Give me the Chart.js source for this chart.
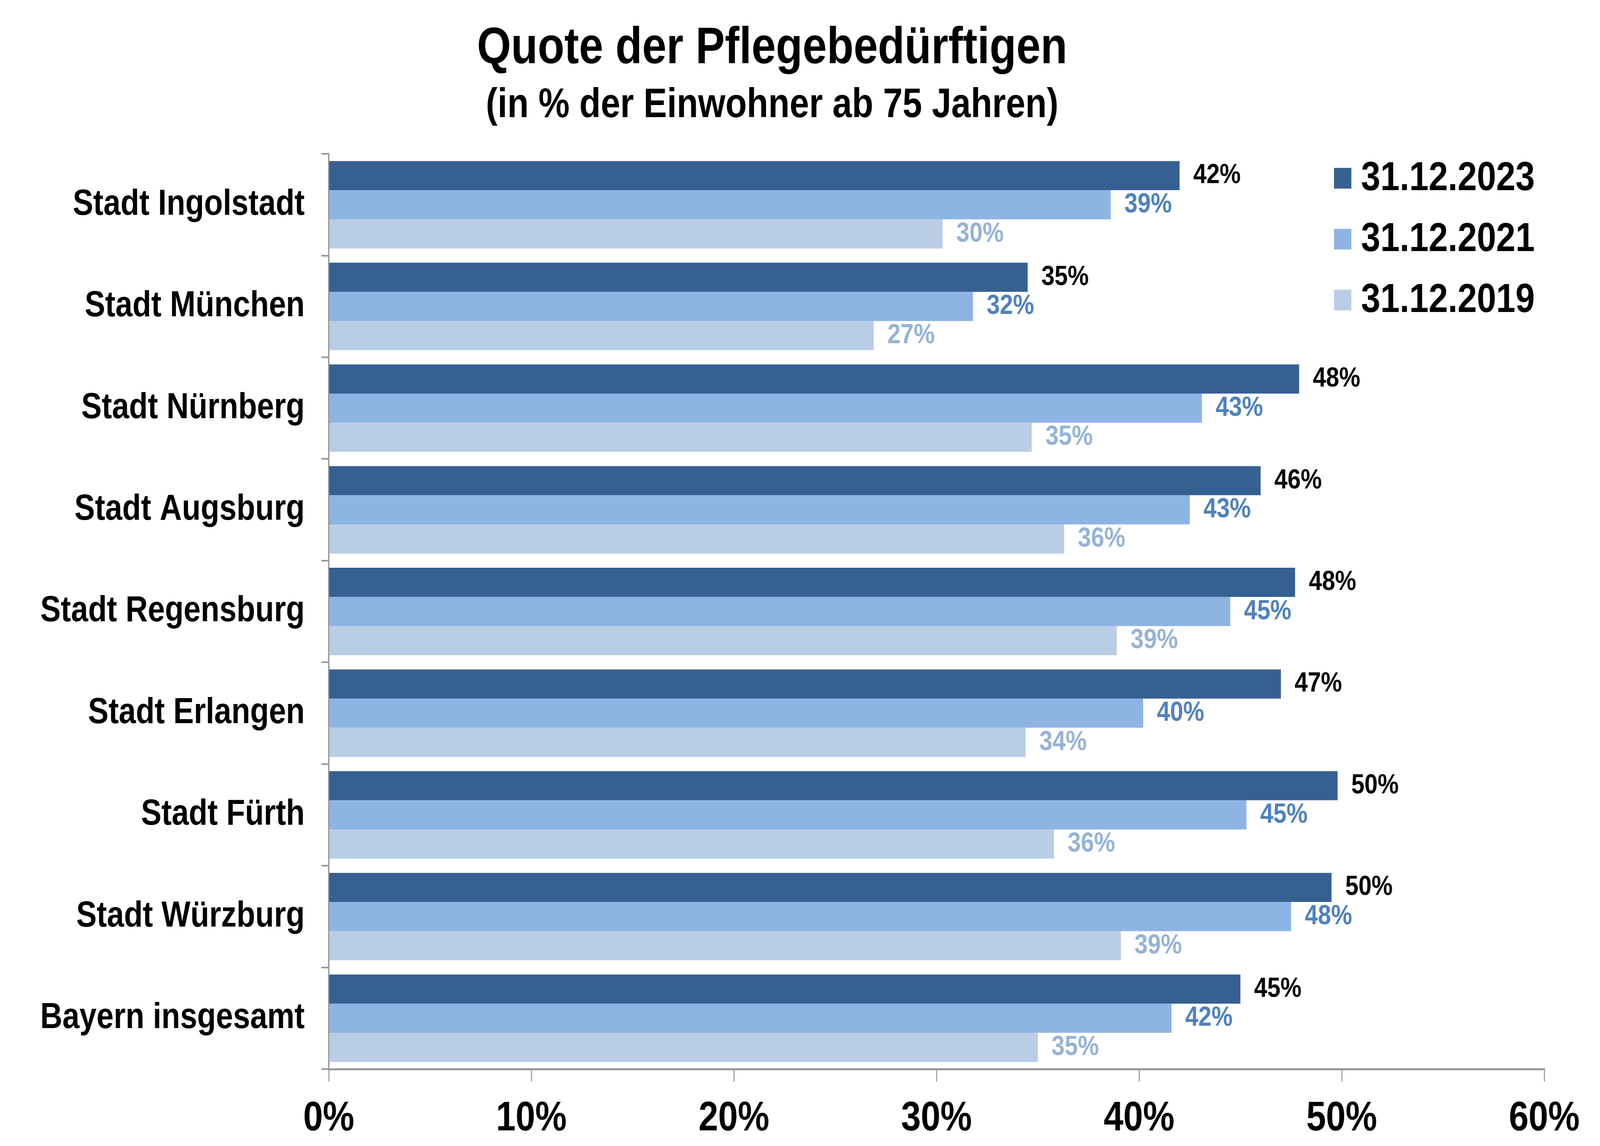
<!DOCTYPE html>
<html lang="de">
<head>
<meta charset="utf-8">
<title>Quote der Pflegebedürftigen</title>
<script src="https://cdn.jsdelivr.net/npm/chart.js@4/dist/chart.umd.min.js"></script>
<style>
  html, body { margin: 0; padding: 0; background: #fff; overflow: hidden; }
  /* chart is laid out on a 4794x2935 canvas and stretched to the window */
  canvas { display: block; width: 100vw; height: 100vh; }
</style>
</head>
<body>
<canvas id="pflegeChart" width="4794" height="2935" style="width:100vw;height:100vh"></canvas>
<script>
// Data (in % der Einwohner ab 75 Jahren)
const categories = [
  "Stadt Ingolstadt",
  "Stadt München",
  "Stadt Nürnberg",
  "Stadt Augsburg",
  "Stadt Regensburg",
  "Stadt Erlangen",
  "Stadt Fürth",
  "Stadt Würzburg",
  "Bayern insgesamt",
];
const seriesLabels = ["31.12.2023", "31.12.2021", "31.12.2019"];
const quote2023 = [42.0, 34.5, 47.9, 46.0, 47.7, 47.0, 49.8, 49.5, 45.0];
const quote2021 = [38.6, 31.8, 43.1, 42.5, 44.5, 40.2, 45.3, 47.5, 41.6];
const quote2019 = [30.3, 26.9, 34.7, 36.3, 38.9, 34.4, 35.8, 39.1, 35.0];
const xTicks = [0, 10, 20, 30, 40, 50, 60];

const barColors = ["#376092", "#8eb4e3", "#b9cde5"];
const labelColors = ["#000000", "#4f81bd", "#95b3d7"];
const axisColor = "#959595";
const fontFamily = "'Liberation Sans', Arial, sans-serif";

/**
 * Value labels at the end of each bar
 */
const valueLabels = {
  id: "valueLabels",
  afterDatasetsDraw(chart) {
    const ctx = chart.ctx;
    ctx.save();
    ctx.font = "bold 71px " + fontFamily;
    ctx.textAlign = "left";
    ctx.textBaseline = "middle";
    chart.data.datasets.forEach((ds, i) => {
      const meta = chart.getDatasetMeta(i);
      ctx.fillStyle = labelColors[i];
      meta.data.forEach((bar, j) => {
        ctx.fillText(Math.round(ds.data[j]) + "%", bar.x + 41, bar.y);
      });
    });
    ctx.restore();
  },
};

/**
 * Legend drawn inside the plot area, top right
 */
const floatingLegend = {
  id: "floatingLegend",
  afterDraw(chart) {
    const ctx = chart.ctx;
    const x = 3997;
    const rowY = [456, 612, 768];
    ctx.save();
    ctx.font = "bold 104px " + fontFamily;
    ctx.textAlign = "left";
    ctx.textBaseline = "middle";
    chart.data.datasets.forEach((ds, i) => {
      ctx.fillStyle = ds.backgroundColor;
      ctx.fillRect(x, rowY[i] - 26, 52, 53);
      ctx.fillStyle = "#000";
      ctx.fillText(ds.label, x + 81, rowY[i] + 2);
    });
    ctx.restore();
  },
};

const seriesData = [quote2023, quote2021, quote2019];

new Chart(document.getElementById("pflegeChart").getContext("2d"), {
  type: "bar",
  data: {
    labels: categories,
    datasets: seriesData.map((values, i) => ({
      label: seriesLabels[i],
      data: values,
      backgroundColor: barColors[i],
      borderWidth: 0,
      categoryPercentage: 0.86,
      barPercentage: 1.0,
    })),
  },
  options: {
    indexAxis: "y",
    responsive: false,
    maintainAspectRatio: false,
    animation: false,
    devicePixelRatio: 1,
    layout: { padding: { left: 0, right: 167, top: 0, bottom: 0 } },
    plugins: {
      legend: { display: false },
      tooltip: { enabled: false },
      title: {
        display: true,
        text: "Quote der Pflegebedürftigen",
        color: "#000",
        font: { family: fontFamily, size: 131, weight: "bold", lineHeight: 1.2 },
        padding: { top: 47, bottom: 0 },
      },
      subtitle: {
        display: true,
        text: "(in % der Einwohner ab 75 Jahren)",
        color: "#000",
        font: { family: fontFamily, size: 105, weight: "bold", lineHeight: 1.2 },
        padding: { top: 4, bottom: 60 },
      },
    },
    scales: {
      x: {
        min: 0,
        max: 60,
        afterBuildTicks: (scale) => {
          scale.ticks = xTicks.map((v) => ({ value: v }));
        },
        afterFit: (scale) => {
          scale.height = 197;
        },
        border: { display: true, color: axisColor, width: 5 },
        grid: {
          drawOnChartArea: false,
          drawTicks: true,
          tickLength: 32,
          color: axisColor,
          lineWidth: 3,
        },
        ticks: {
          padding: 32,
          color: "#000",
          font: { family: fontFamily, size: 106, weight: "bold" },
          callback: (v) => v + "%",
        },
      },
      y: {
        afterFit: (scale) => {
          scale.width = 985;
        },
        border: { display: true, color: axisColor, width: 4 },
        grid: {
          offset: true,
          drawOnChartArea: false,
          drawTicks: true,
          tickLength: 22,
          color: axisColor,
          lineWidth: 4,
        },
        ticks: {
          padding: 50,
          color: "#000",
          font: { family: fontFamily, size: 92, weight: "bold" },
        },
      },
    },
  },
  plugins: [valueLabels, floatingLegend],
});
</script>
</body>
</html>
